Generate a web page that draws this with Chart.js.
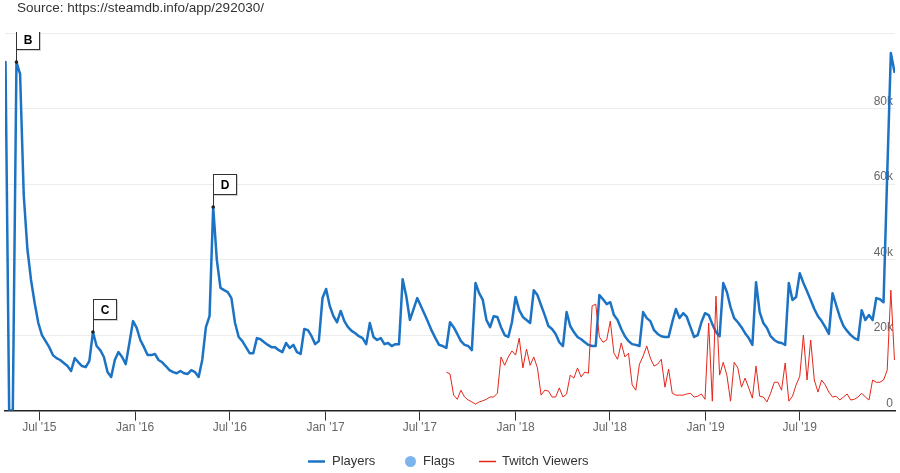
<!DOCTYPE html>
<html>
<head>
<meta charset="utf-8">
<script src="https://cdn.jsdelivr.net/npm/chart.js@4"></script>
<style>
html,body{margin:0;padding:0;background:#fff;}
#wrap{position:relative;width:900px;height:473px;}
canvas{display:block;}
</style>
</head>
<body>
<div id="wrap"><canvas id="c" width="900" height="473"></canvas></div>
<script>
// ---------- data ----------
const sourceText = "Source: https://steamdb.info/app/292030/";
const baseDate = "2015-07-01";          // x = days since this date
const playersStart = "2015-04-27";      // weekly samples
const twitchStart = "2017-08-21";       // weekly samples
const stepDays = 7;

const players = [
  92300, 0, 0, 92300, 89100, 57100, 42800, 34600, 28500, 23200,
  20000, 18400, 16800, 14700, 13900, 13400, 12600, 11800, 10500, 13900,
  12800, 11800, 11500, 13100, 20800, 17100, 16000, 14200, 10200, 8900,
  13400, 15500, 14200, 12300, 17900, 23700, 21900, 18700, 16800, 14700,
  14700, 15000, 13400, 12800, 11800, 10700, 10200, 9900, 10500, 9900,
  9700, 10700, 10200, 8900, 13400, 22100, 25000, 53900, 39900, 32500,
  31900, 31400, 29800, 23200, 19500, 18400, 16800, 15200, 15200, 19200,
  18900, 18100, 17400, 16800, 16800, 16000, 15500, 17900, 16600, 17400,
  15500, 15000, 21600, 21300, 19700, 17600, 18400, 29800, 32200, 27700,
  25000, 23400, 26400, 23700, 22100, 21100, 20500, 19700, 19200, 17600,
  23200, 19500, 18700, 19200, 17600, 17900, 17100, 17600, 17600, 34800,
  30300, 24000, 26900, 29800, 27700, 25600, 23400, 21100, 19200, 17400,
  17100, 16600, 23400, 22100, 20300, 18400, 17400, 17100, 16000, 33800,
  31100, 29300, 24000, 22100, 25000, 24800, 22100, 20000, 19500, 23400,
  30100, 26600, 24800, 24000, 23200, 31900, 30600, 27900, 25300, 22400,
  21600, 20300, 18100, 17100, 26100, 22400, 20800, 19500, 18900, 18100,
  17400, 17100, 17100, 30600, 29500, 28200, 28700, 25300, 24000, 21600,
  19700, 18400, 17600, 17400, 17100, 26100, 24500, 23700, 21300, 20300,
  19700, 19500, 19500, 23400, 26900, 24500, 25800, 24800, 22100, 19500,
  20000, 23400, 25800, 25300, 22900, 20800, 19700, 33800, 31400, 27400,
  24500, 23400, 22100, 20500, 19200, 17400, 34000, 26100, 23200, 21900,
  19700, 18700, 18100, 17900, 17400, 33800, 29300, 30100, 36400, 33800,
  31600, 29300, 26900, 25000, 23700, 22100, 20300, 31100, 27900, 24800,
  22400, 21100, 20000, 19200, 18700, 26600, 24000, 25300, 24000, 29800,
  29500, 28700, 62400, 94700, 89700
];

const twitch = [
  10200, 9700, 4100, 3000, 5400, 3600, 2800, 2300, 1700, 2300,
  2600, 3000, 3600, 3600, 4600, 14200, 12000, 14200, 15800, 14700,
  19200, 11300, 16300, 12000, 14200, 11300, 4100, 5400, 5200, 3600,
  3600, 6000, 3600, 4400, 9400, 8600, 11300, 8900, 10200, 9900,
  27700, 28200, 19500, 18100, 18700, 23700, 15200, 13600, 17900, 14200,
  15200, 6800, 5400, 12300, 14400, 17100, 13900, 11800, 12300, 13600,
  6200, 11000, 4600, 4100, 4100, 4100, 4400, 4600, 3600, 3800,
  4400, 3000, 23200, 2500, 30300, 9400, 12800, 9400, 2500, 12800,
  11300, 6200, 8600, 6000, 3300, 11800, 3800, 3600, 2300, 4600,
  7500, 7500, 5400, 12600, 2500, 3800, 6800, 9100, 20000, 8100,
  18700, 8100, 4900, 8100, 6800, 4900, 3600, 3800, 2800, 3600,
  4400, 2800, 3000, 3600, 4600, 3600, 2800, 8100, 7500, 7500,
  8100, 10700, 31900, 13400
];

const flagLabels = ["B", "C", "D"];
const flagIndices = [3, 24, 57];   // positions in players[]

const tickDates = ["2015-07-01","2016-01-01","2016-07-01","2017-01-01","2017-07-01",
                   "2018-01-01","2018-07-01","2019-01-01","2019-07-01"];
const tickLabels = ["Jul '15","Jan '16","Jul '16","Jan '17","Jul '17",
                    "Jan '18","Jul '18","Jan '19","Jul '19"];
const yTickValues = [0, 20000, 40000, 60000, 80000, 100000];
const yTickLabels = ["0", "20k", "40k", "60k", "80k", ""];
const xRange = ["2015-04-26", "2019-12-31"];
const legendNames = ["Players", "Flags", "Twitch Viewers"];

// ---------- helpers ----------
const DAY = 86400000;
const dayOf = s => (Date.parse(s + "T00:00:00Z") - Date.parse(baseDate + "T00:00:00Z")) / DAY;
const series = (start, vals) => vals.map((v, i) => ({ x: dayOf(start) + i * stepDays, y: v }));
const tickDays = tickDates.map(dayOf);

const BLUE = "#1c73c4", RED = "#e3261b", FLAGC = "#7cb5ec";
const FONT = "'Liberation Sans', Arial, sans-serif";

const flagsPlugin = {
  id: "flags",
  afterDatasetsDraw(chart) {
    const ctx = chart.ctx, area = chart.chartArea;
    const meta = chart.getDatasetMeta(0);
    ctx.save();
    ctx.beginPath();
    ctx.rect(area.left, area.top - 1, area.right - area.left, area.bottom - area.top + 1);
    ctx.clip();
    flagIndices.forEach((idx, k) => {
      const p = meta.data[idx];
      const x = Math.round(p.x) + 0.5, y = p.y;
      const stem = 13, w = 23, h = 20;
      const top = Math.round(y - stem - h) + 0.5;
      ctx.strokeStyle = "rgba(0,0,0,0.18)";
      ctx.lineWidth = 1;
      ctx.strokeRect(x + 1, top + 1, w, h);
      ctx.fillStyle = "#fff";
      ctx.fillRect(x, top, w, h);
      ctx.strokeStyle = "#333";
      ctx.strokeRect(x, top, w, h);
      ctx.beginPath();
      ctx.moveTo(x, top + h);
      ctx.lineTo(x, y);
      ctx.stroke();
      ctx.fillStyle = "#000";
      ctx.font = "bold 12px " + FONT;
      ctx.textAlign = "center";
      ctx.textBaseline = "middle";
      ctx.fillText(flagLabels[k], x + w / 2, top + h / 2 + 1);
      ctx.fillStyle = "#222";
      ctx.beginPath();
      ctx.arc(p.x, p.y, 1.8, 0, Math.PI * 2);
      ctx.fill();
    });
    ctx.restore();
  },
  afterDraw(chart) {
    const ctx = chart.ctx;
    ctx.save();
    ctx.fillStyle = "#333";
    ctx.font = "13.5px " + FONT;
    ctx.textAlign = "left";
    ctx.textBaseline = "alphabetic";
    ctx.fillText(sourceText, 17, 12);
    const ly = 461.5;
    ctx.font = "13px " + FONT;
    ctx.textBaseline = "middle";
    ctx.lineCap = "butt";
    ctx.strokeStyle = BLUE; ctx.lineWidth = 2.5;
    ctx.beginPath(); ctx.moveTo(308, ly); ctx.lineTo(325, ly); ctx.stroke();
    ctx.fillStyle = "#333";
    ctx.fillText(legendNames[0], 332, ly);
    ctx.fillStyle = FLAGC;
    ctx.beginPath(); ctx.arc(410.5, ly, 5.5, 0, Math.PI * 2); ctx.fill();
    ctx.fillStyle = "#333";
    ctx.fillText(legendNames[1], 423, ly);
    ctx.strokeStyle = RED; ctx.lineWidth = 1.5;
    ctx.beginPath(); ctx.moveTo(479, ly); ctx.lineTo(496, ly); ctx.stroke();
    ctx.fillStyle = "#333";
    ctx.fillText(legendNames[2], 502, ly);
    ctx.restore();
  }
};

new Chart(document.getElementById("c"), {
  type: "line",
  data: {
    datasets: [
      {
        label: "Players",
        data: series(playersStart, players),
        borderColor: BLUE,
        borderWidth: 2.5,
        pointRadius: 0,
        tension: 0,
        fill: false,
        order: 1,
        borderJoinStyle: "round",
        borderCapStyle: "round"
      },
      {
        label: "Twitch Viewers",
        data: series(twitchStart, twitch),
        borderColor: RED,
        borderWidth: 1,
        pointRadius: 0,
        tension: 0,
        fill: false,
        order: 0
      }
    ]
  },
  options: {
    responsive: false,
    animation: false,
    devicePixelRatio: 1,
    layout: { padding: { left: 5, right: 5, top: 33, bottom: 38 } },
    plugins: { legend: { display: false }, tooltip: { enabled: false }, title: { display: false } },
    scales: {
      x: {
        type: "linear",
        min: dayOf(xRange[0]),
        max: dayOf(xRange[1]),
        afterBuildTicks(scale) { scale.ticks = tickDays.map(v => ({ value: v })); },
        ticks: {
          autoSkip: false,
          maxRotation: 0,
          padding: 0,
          color: "#666",
          font: { family: FONT, size: 12 },
          callback(value) { const i = tickDays.indexOf(value); return i >= 0 ? tickLabels[i] : ""; }
        },
        grid: { drawOnChartArea: false, drawTicks: true, tickLength: 10, color: "#333", lineWidth: 1 },
        border: { display: true, color: "#222", width: 1.5 }
      },
      y: {
        position: "right",
        min: 0,
        max: 100000,
        afterBuildTicks(scale) { scale.ticks = yTickValues.map(v => ({ value: v })); },
        ticks: {
          mirror: true,
          padding: -2,
          labelOffset: -7,
          color: "#666",
          font: { family: FONT, size: 12 },
          callback(value) { const i = yTickValues.indexOf(value); return i >= 0 ? yTickLabels[i] : ""; }
        },
        grid: { color: "#ececec", lineWidth: 1, drawTicks: false },
        border: { display: false }
      }
    }
  },
  plugins: [flagsPlugin]
});
</script>
</body>
</html>
